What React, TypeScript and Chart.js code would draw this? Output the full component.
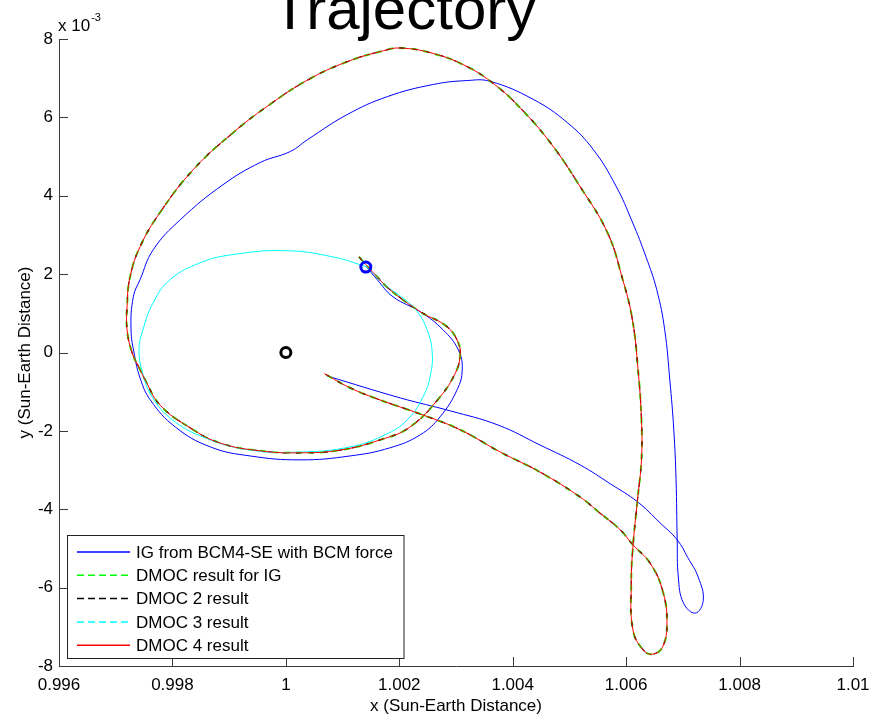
import { useEffect, useRef } from "react";
import { Chart, registerables } from "chart.js";

Chart.register(...registerables);

const FONT = '"Liberation Sans", Arial, Helvetica, sans-serif';
const AXIS = "#3a3a3a";

const titleText = "Trajectory";
const xAxisLabel = "x (Sun-Earth Distance)";
const yAxisLabel = "y (Sun-Earth Distance)";
const yExponentBase = "x 10";
const yExponentPower = "-3";

const xTickValues = [0.996, 0.998, 1, 1.002, 1.004, 1.006, 1.008, 1.01];
const yTickValues = [-8, -6, -4, -2, 0, 2, 4, 6, 8]; // in units of 1e-3

const legendLabels = [
  "IG from BCM4-SE with BCM force",
  "DMOC result for IG",
  "DMOC 2 result",
  "DMOC 3 result",
  "DMOC 4 result",
];
const seriesColors = ["rgb(0,0,255)", "rgb(0,255,0)", "rgb(0,0,0)", "rgb(0,255,255)", "rgb(255,0,0)"];
const legendDashes = [[], [7, 4], [7, 4], [7, 4], []];

// IG from BCM4-SE with BCM force (y in 1e-3)
const igX = [1.00142, 1.00161, 1.00189, 1.00237, 1.00277, 1.00304, 1.00311, 1.00302, 1.00272, 1.00237, 1.00184, 1.00113, 1.00025, 0.99937, 0.99867, 0.99805, 0.99761, 0.99743, 0.99733, 0.99727, 0.99731, 0.99743, 0.99766, 0.99814, 0.99889, 0.99955, 1.00008, 1.00038, 1.00108, 1.00179, 1.0026, 1.0032, 1.0036, 1.00436, 1.00496, 1.00542, 1.00582, 1.00611, 1.00635, 1.00654, 1.00668, 1.00677, 1.00684, 1.00688, 1.0069, 1.00692, 1.00701, 1.00722, 1.00736, 1.00727, 1.00709, 1.0069, 1.0066, 1.0062, 1.00572, 1.00519, 1.00448, 1.00374, 1.0029, 1.00202, 1.00073];
const igY = [2.19, 1.86, 1.42, 1.04, 0.58, 0.07, -0.44, -0.95, -1.64, -2.1, -2.43, -2.64, -2.74, -2.64, -2.41, -1.9, -1.21, -0.65, -0.06, 0.58, 1.42, 1.86, 2.62, 3.39, 4.28, 4.85, 5.13, 5.43, 6.07, 6.53, 6.84, 6.94, 6.92, 6.46, 5.87, 5.18, 4.25, 3.33, 2.44, 1.6, 0.58, -0.7, -1.97, -3.25, -4.78, -5.73, -6.39, -6.65, -6.32, -5.73, -5.24, -4.78, -4.35, -3.81, -3.35, -2.87, -2.36, -1.85, -1.49, -1.16, -0.6];

// DMOC 4 result (y in 1e-3)
const dmoc4X = [1.00129, 1.00154, 1.00184, 1.00237, 1.00284, 1.00304, 1.00307, 1.00299, 1.00272, 1.00219, 1.00166, 1.00096, 1.00025, 0.99955, 0.99884, 0.99831, 0.99778, 0.99752, 0.99743, 0.99729, 0.9972, 0.9972, 0.99725, 0.99743, 0.99778, 0.99837, 0.99907, 0.99967, 1.00038, 1.00108, 1.00172, 1.00202, 1.0026, 1.00319, 1.00368, 1.00412, 1.00466, 1.00519, 1.00567, 1.00593, 1.00611, 1.00621, 1.00627, 1.00627, 1.0062, 1.00612, 1.00609, 1.00612, 1.0063, 1.00646, 1.00664, 1.00672, 1.00664, 1.00642, 1.00612, 1.0059, 1.00554, 1.00519, 1.00448, 1.00378, 1.00307, 1.00237, 1.00166, 1.00113, 1.00068];
const dmoc4Y = [2.44, 2.04, 1.6, 1.04, 0.66, 0.25, -0.11, -0.52, -1.13, -1.9, -2.23, -2.49, -2.56, -2.51, -2.31, -1.92, -1.34, -0.7, -0.44, -0.01, 0.58, 1.17, 1.91, 2.7, 3.57, 4.67, 5.61, 6.28, 6.95, 7.42, 7.7, 7.77, 7.63, 7.3, 6.84, 6.26, 5.36, 4.23, 3.06, 1.91, 0.84, -0.44, -1.72, -2.74, -3.76, -4.96, -5.88, -7.08, -7.59, -7.7, -7.52, -6.9, -6.06, -5.37, -4.91, -4.53, -4.1, -3.69, -3.05, -2.54, -1.97, -1.57, -1.21, -0.9, -0.54];

// DMOC result for IG and DMOC 2 result lie on the DMOC 4 path
const dmocIgX = dmoc4X;
const dmocIgY = dmoc4Y;
const dmoc2X = dmoc4X;
const dmoc2Y = dmoc4Y;

// DMOC 3 result (y in 1e-3)
const dmoc3X = [1.00142, 1.00179, 1.0021, 1.00232, 1.00249, 1.00258, 1.00255, 1.00242, 1.00214, 1.00175, 1.00113, 1.00025, 0.99937, 0.99858, 0.998, 0.99764, 0.99747, 0.99741, 0.99748, 0.99766, 0.99796, 0.99849, 0.99907, 0.99999, 1.00083, 1.00142];
const dmoc3Y = [2.19, 1.68, 1.35, 1.04, 0.58, 0.02, -0.57, -1.13, -1.72, -2.1, -2.41, -2.54, -2.49, -2.18, -1.72, -1.13, -0.49, 0.07, 0.58, 1.27, 1.86, 2.29, 2.5, 2.6, 2.44, 2.19];

// markers
const earthX = [1.0];
const earthY = [0];
const startX = [1.00141];
const startY = [2.18];

const pts = (xs: number[], ys: number[]) => xs.map((x, i) => ({ x, y: ys[i] }));

const decorPlugin = {
  id: "decor",
  afterDraw(chart: any) {
    const ctx = chart.ctx as CanvasRenderingContext2D;
    const { left, right, top, bottom } = chart.chartArea;
    const xs = chart.scales.x;
    const ys = chart.scales.y;
    ctx.save();
    // inward ticks
    ctx.strokeStyle = AXIS;
    ctx.lineWidth = 1;
    ctx.beginPath();
    xs.ticks.forEach((t: any) => {
      const px = Math.round(xs.getPixelForValue(t.value)) + 0.5;
      ctx.moveTo(px, bottom);
      ctx.lineTo(px, bottom - 9);
    });
    ys.ticks.forEach((t: any) => {
      const py = Math.round(ys.getPixelForValue(t.value)) + 0.5;
      ctx.moveTo(left, py);
      ctx.lineTo(left + 9, py);
    });
    ctx.stroke();

    // title
    ctx.fillStyle = "#000";
    ctx.font = `60px ${FONT}`;
    ctx.textAlign = "center";
    ctx.textBaseline = "alphabetic";
    ctx.fillText(titleText, 404, 29);

    // axis labels
    ctx.font = `17px ${FONT}`;
    ctx.fillText(xAxisLabel, (left + right) / 2, 711);
    ctx.save();
    ctx.translate(30, (top + bottom) / 2);
    ctx.rotate(-Math.PI / 2);
    ctx.fillText(yAxisLabel, 0, 0);
    ctx.restore();

    // exponent
    ctx.textAlign = "left";
    ctx.font = `17px ${FONT}`;
    ctx.fillText(yExponentBase, 58, 31);
    const w = ctx.measureText(yExponentBase).width;
    ctx.font = `11px ${FONT}`;
    ctx.fillText(yExponentPower, 58 + w + 1, 21);

    // legend box
    const bx = 67.5, by = 535.5, bw = 336.5, bh = 123;
    ctx.fillStyle = "#fff";
    ctx.fillRect(bx, by, bw, bh);
    ctx.strokeStyle = "#222";
    ctx.lineWidth = 1;
    ctx.strokeRect(bx, by, bw, bh);
    ctx.restore();

    // legend samples
    legendLabels.forEach((label, i) => {
      const cy = 552 + i * 23.3;
      ctx.save();
      ctx.lineWidth = 1.5;
      ctx.strokeStyle = seriesColors[i];
      ctx.setLineDash(legendDashes[i]);
      ctx.beginPath();
      ctx.moveTo(77, cy);
      ctx.lineTo(130, cy);
      ctx.stroke();
      ctx.restore();
      ctx.save();
      ctx.fillStyle = "#000";
      ctx.font = `17px ${FONT}`;
      ctx.textAlign = "left";
      ctx.textBaseline = "middle";
      ctx.fillText(label, 136, cy + 1);
      ctx.restore();
    });
  },
};

export default function App() {
  const ref = useRef<HTMLCanvasElement>(null);
  useEffect(() => {
    const canvas = ref.current!;
    const lineBase = { showLine: true, pointRadius: 0, tension: 0.42, fill: false };
    const datasets: any[] = [
      { ...lineBase, label: legendLabels[0], data: pts(igX, igY), borderColor: seriesColors[0], borderWidth: 1, order: 5 },
      { ...lineBase, label: legendLabels[1], data: pts(dmocIgX, dmocIgY), borderColor: seriesColors[1], borderWidth: 2, borderDash: [6, 6], order: 4 },
      { ...lineBase, label: legendLabels[2], data: pts(dmoc2X, dmoc2Y), borderColor: seriesColors[2], borderWidth: 1.2, borderDash: [4, 10], order: 3 },
      { ...lineBase, label: legendLabels[3], data: pts(dmoc3X, dmoc3Y), borderColor: seriesColors[3], borderWidth: 1, order: 2 },
      { ...lineBase, label: legendLabels[4], data: pts(dmoc4X, dmoc4Y), borderColor: seriesColors[4], borderWidth: 1, order: 1 },
      { label: "Earth", data: pts(earthX, earthY), showLine: false, pointRadius: 5, pointBorderWidth: 3, pointBorderColor: "#000", pointBackgroundColor: "rgba(0,0,0,0)", borderColor: "#000", order: 0 },
      { label: "Start", data: pts(startX, startY), showLine: false, pointRadius: 5, pointBorderWidth: 3, pointBorderColor: "#0000ff", pointBackgroundColor: "rgba(0,0,0,0)", borderColor: "#0000ff", order: 0 },
    ];
    const chart = new Chart(canvas, {
      type: "scatter",
      data: { datasets },
      options: {
        animation: false,
        responsive: false,
        devicePixelRatio: 1,
        layout: { padding: { top: 39, right: 16, left: 0, bottom: 0 } },
        plugins: { legend: { display: false }, title: { display: false }, tooltip: { enabled: false } },
        scales: {
          x: {
            type: "linear",
            min: xTickValues[0],
            max: xTickValues[xTickValues.length - 1],
            afterBuildTicks: (s: any) => {
              s.ticks = xTickValues.map((v) => ({ value: v }));
            },
            afterFit: (s: any) => {
              s.height = 51;
              s.paddingLeft = 0;
              s.paddingRight = 0;
            },
            grid: { display: false, drawTicks: false },
            border: { display: true, color: AXIS, width: 1 },
            ticks: {
              color: "#000",
              font: { family: FONT, size: 17 },
              padding: 9,
              maxRotation: 0,
              autoSkip: false,
              callback: (v: any) => String(Number(Number(v).toFixed(3))),
            },
          },
          y: {
            type: "linear",
            min: yTickValues[0],
            max: yTickValues[yTickValues.length - 1],
            afterBuildTicks: (s: any) => {
              s.ticks = yTickValues.map((v) => ({ value: v }));
            },
            afterFit: (s: any) => {
              s.width = 59;
              s.paddingTop = 0;
              s.paddingBottom = 0;
            },
            grid: { display: false, drawTicks: false },
            border: { display: true, color: AXIS, width: 1 },
            ticks: {
              color: "#000",
              font: { family: FONT, size: 17 },
              padding: 6,
              autoSkip: false,
              callback: (v: any) => String(Math.round(Number(v))),
            },
          },
        },
      },
      plugins: [decorPlugin],
    } as any);
    return () => chart.destroy();
  }, []);
  return (
    <div style={{ position: "absolute", left: 0, top: 0, width: 869, height: 717 }}>
      <canvas ref={ref} width={869} height={717} style={{ display: "block" }} />
    </div>
  );
}
